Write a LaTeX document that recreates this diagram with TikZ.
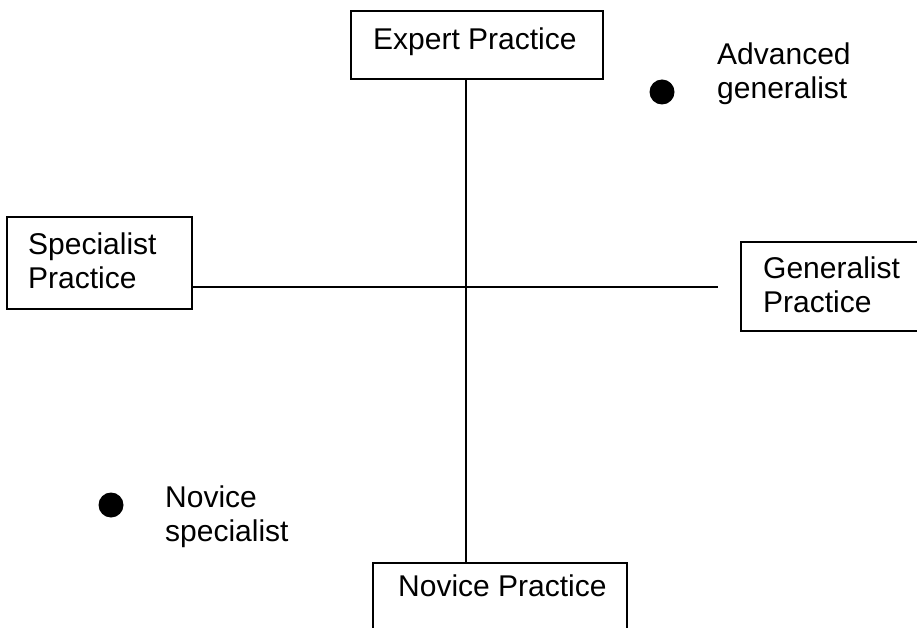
\documentclass[tikz,border=0pt]{standalone}
\usepackage{fontspec}
\setmainfont{Liberation Sans}
\begin{document}
\begin{tikzpicture}[x=1pt,y=-1pt,
  box/.style={draw=black, line width=2pt, fill=white, inner sep=0pt},
  axis/.style={draw=black, line width=2pt},
  lbl/.style={inner sep=0pt, font=\fontsize{30}{34}\selectfont, align=left},
  dot/.style={circle, fill=black, inner sep=0pt, minimum size=25pt}]
\useasboundingbox (0,0) rectangle (917,628);
\clip (0,0) rectangle (917,628);
% boxes
\node[box, minimum width=252pt, minimum height=68pt] (expert) at (477,45) {};
\node[box, minimum width=185pt, minimum height=92pt] (spec) at (99.5,263) {};
\node[box, minimum width=200pt, minimum height=89pt] (gen) at (841,286.5) {};
\node[box, minimum width=254pt, minimum height=68pt] (nov) at (500,597) {};
% axes
\coordinate (c) at (466,287);
\coordinate (hend) at (718,287);
\draw[axis] (expert.south -| c) -- (nov.north -| c);
\draw[axis] (spec.east |- c) -- (hend);
% labels
\node[lbl, anchor=base west] (tExpert) at (373,50) {Expert Practice};
\node[lbl, anchor=base west] (tNovice) at (398,596) {Novice Practice};
\node[lbl, anchor=north west] (tSpec) at (28,233) {Specialist\\Practice};
\node[lbl, anchor=north west] (tGen) at (763,257) {Generalist\\Practice};
% points
\node[dot] (adv) at (662,92) {};
\node[lbl, anchor=north west] (tAdv) at (717,43) {Advanced\\generalist};
\node[dot] (nsp) at (111,505) {};
\node[lbl, anchor=north west] (tNsp) at (165,486) {Novice\\specialist};
\end{tikzpicture}
\end{document}
